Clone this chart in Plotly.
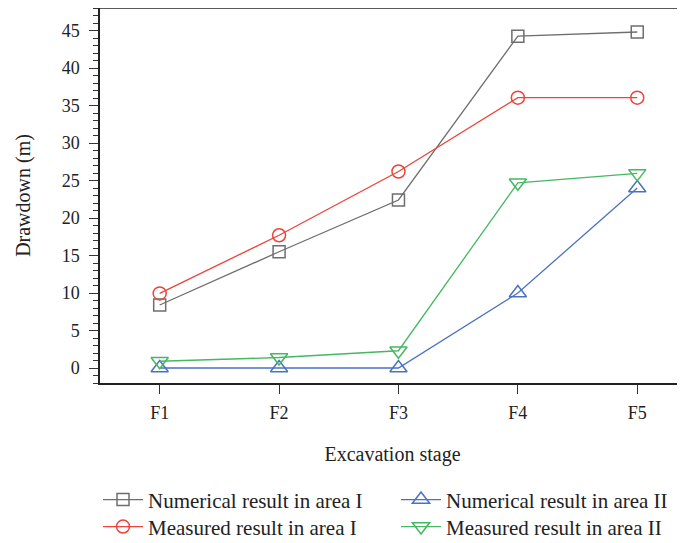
import plotly.graph_objects as go

categories = ["F1", "F2", "F3", "F4", "F5"]
numerical_area1 = [8.4, 15.5, 22.4, 44.25, 44.8]
measured_area1 = [9.95, 17.7, 26.2, 36.05, 36.05]
numerical_area2 = [0.0, 0.0, 0.0, 10.0, 24.0]
measured_area2 = [0.9, 1.4, 2.3, 24.7, 25.95]

names = ["Numerical result in area I", "Numerical result in area II",
         "Measured result in area I", "Measured result in area II"]
series = [numerical_area1, numerical_area2, measured_area1, measured_area2]
colors = ["#6e6e6e", "#4a72c2", "#ec433a", "#44b862"]
symbols = ["square-open", "triangle-up-open", "circle-open", "triangle-down-open"]
sizes = [12, 15, 13, 15]
legend_ids = ["legend", "legend", "legend2", "legend2"]

fig = go.Figure()
for n, s, c, sym, sz, lg in zip(names, series, colors, symbols, sizes, legend_ids):
    fig.add_trace(go.Scatter(
        x=categories, y=s, name=n, mode="lines+markers", legend=lg,
        line=dict(color=c, width=1.3),
        marker=dict(symbol=sym, size=sz, color=c, line=dict(width=1.5, color=c)),
    ))

font_family = "Liberation Serif, DejaVu Serif, serif"
legend_common = dict(orientation="h", x=-0.0034, xref="paper", yref="paper",
                     xanchor="left", yanchor="top",
                     entrywidth=243, entrywidthmode="pixels",
                     font=dict(family=font_family, size=21, color="#222"), tracegroupgap=0,
                     itemwidth=40, borderwidth=0, bgcolor="rgba(0,0,0,0)")
fig.update_layout(
    width=677, height=535,
    margin=dict(l=92, r=0, t=0, b=160, autoexpand=False),
    paper_bgcolor="white", plot_bgcolor="white",
    font=dict(family=font_family, size=18, color="#222"),
    showlegend=True,
    legend=dict(y=-0.257, **legend_common),
    legend2=dict(y=-0.329, **legend_common),
    xaxis=dict(type="category", range=[-0.5, 4.4], showline=True, linecolor="#222",
               linewidth=1.5, ticks="outside", ticklen=9, tickwidth=1.3, tickcolor="#333",
               showgrid=False, zeroline=False,
               tickfont=dict(family=font_family, size=18, color="#222"), ticklabelstandoff=4,
               title=dict(text="Excavation stage", standoff=25, font=dict(family=font_family, size=20))),
    yaxis=dict(range=[-2, 48], showline=True, linecolor="#222", linewidth=1.5,
               ticks="outside", ticklen=9, tickwidth=1.3, tickcolor="#333",
               tickvals=[0, 5, 10, 15, 20, 25, 30, 35, 40, 45],
               minor=dict(dtick=1, ticks="outside", ticklen=5, tickwidth=1, tickcolor="#333", showgrid=False),
               showgrid=False, zeroline=False,
               tickfont=dict(family=font_family, size=18, color="#222"), ticklabelstandoff=6,
               title=dict(text="Drawdown (m)", standoff=26, font=dict(family=font_family, size=20))),
)
fig.add_shape(type="line", xref="paper", yref="paper", x0=0, x1=1, y0=1, y1=1,
              line=dict(color="#222", width=1.5))

fig.write_html("out.html")
